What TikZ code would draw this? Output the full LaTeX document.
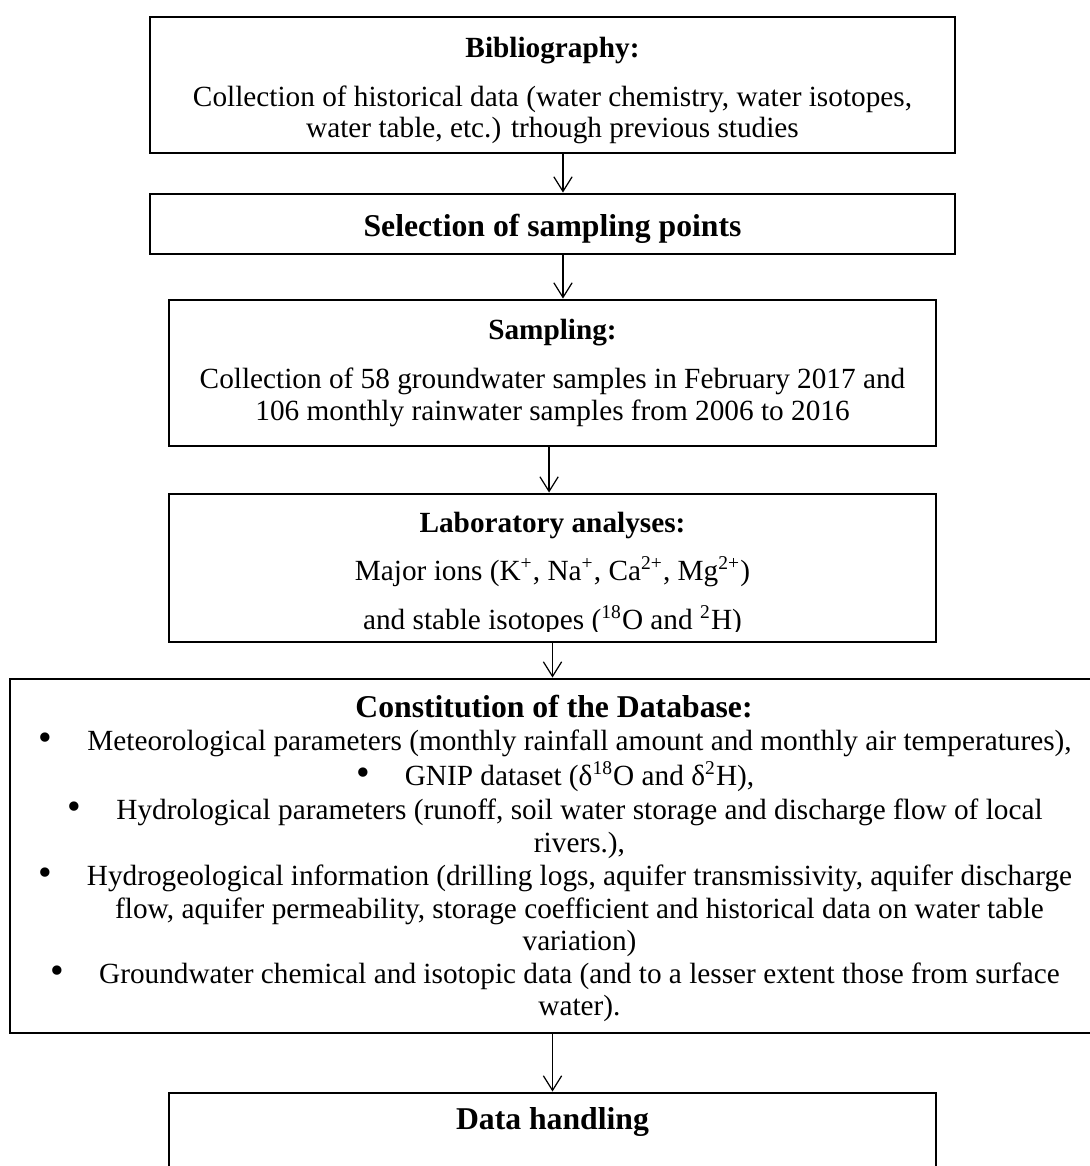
\documentclass[tikz,border=0pt]{standalone}
\usepackage{fontspec}
\setmainfont{Liberation Serif}
\usetikzlibrary{arrows.meta,positioning}

\begin{document}
\begin{tikzpicture}[
  x=0.41pt, y=-0.41pt,
  every node/.style={font=\fontsize{12}{14}\selectfont},
  box/.style={draw, line width=1.2pt, inner sep=0pt},
  boxsize/.style 2 args={minimum width=#1*0.41pt, minimum height=#2*0.41pt},
  txt/.style={anchor=base, inner sep=0pt},
  head/.style={txt, font=\fontsize{12}{14}\selectfont\bfseries},
  bighead/.style={txt, font=\fontsize{13}{15}\selectfont\bfseries},
  arr/.style={-{Straight Barb[length=6pt, width=7.5pt]}, line width=0.5pt}
]
\useasboundingbox (0,0) rectangle (1089,1166);

% frames
\node[box, boxsize={805}{136}] (bib) at (552.5,85) {};
\node[box, boxsize={805}{60}] (sel) at (552.5,224) {};
\node[box, boxsize={767}{146}] (samp) at (552.5,373) {};
\node[box, boxsize={767}{148}] (lab) at (552.5,568) {};
\node[box, boxsize={1085}{354}] (db) at (552.5,856) {};
\node[box, boxsize={767}{110}] (dh) at (552.5,1148) {};

% bibliography
\node[head] (bibhead) at (552.5,57) {Bibliography:};
\node[txt] (bibl1) at (552.5,106) {Collection of historical data (water chemistry, water isotopes,};
\node[txt] (bibl2) at (552.5,137) {water table, etc.) trhough previous studies};

\node[bighead] (selhead) at (552.5,236) {Selection of sampling points};

% sampling
\node[head] (samphead) at (552.5,339) {Sampling:};
\node[txt] (sampl1) at (552.5,388) {Collection of 58 groundwater samples in February 2017 and};
\node[txt] (sampl2) at (552.5,420) {106 monthly rainwater samples from 2006 to 2016};

% laboratory
\node[head] (labhead) at (552.5,532) {Laboratory analyses:};
\node[txt] (labl1) at (552.5,580) {Major ions (K\textsuperscript{+}, Na\textsuperscript{+}, Ca\textsuperscript{2+}, Mg\textsuperscript{2+})};
\begin{scope}
  \clip (169,494) rectangle (936,631);
  \node[txt] (labl2) at (552.5,629) {and stable isotopes (\textsuperscript{18}O and \textsuperscript{2}H)};
\end{scope}

% database
\newcommand{\dbbullet}{\llap{\raisebox{-0.3pt}{\fontsize{16}{14}\selectfont\textbullet}\hspace{14.3pt}}}
\node[bighead] (dbhead) at (554,717) {Constitution of the Database:};
\node[txt] (dbl1) at (579.5,750) {\dbbullet Meteorological parameters (monthly rainfall amount and monthly air temperatures),};
\node[txt] (dbl2) at (579.5,785) {\dbbullet GNIP dataset (δ\textsuperscript{18}O and δ\textsuperscript{2}H),};
\node[txt] (dbl3) at (579.5,819) {\dbbullet Hydrological parameters (runoff, soil water storage and discharge flow of local};
\node[txt] (dbl4) at (579.5,852) {rivers.),};
\node[txt] (dbl5) at (579.5,885) {\dbbullet Hydrogeological information (drilling logs, aquifer transmissivity, aquifer discharge};
\node[txt] (dbl6) at (579.5,918) {flow, aquifer permeability, storage coefficient and historical data on water table};
\node[txt] (dbl7) at (579.5,950) {variation)};
\node[txt] (dbl8) at (579.5,983) {\dbbullet Groundwater chemical and isotopic data (and to a lesser extent those from surface};
\node[txt] (dbl9) at (579.5,1015) {water).};

\node[bighead] (dhhead) at (552.5,1129) {Data handling};

% arrows
\draw[arr] ([xshift=4.3pt]bib.south) -- ([xshift=4.3pt]sel.north);
\draw[arr] ([xshift=4.3pt]sel.south) -- ([xshift=4.3pt]samp.north);
\draw[arr] ([xshift=-1.4pt]samp.south) -- ([xshift=-1.4pt]lab.north);
\draw[arr] (lab.south) -- (db.north);
\draw[arr] (db.south) -- (dh.north);
\end{tikzpicture}
\end{document}
